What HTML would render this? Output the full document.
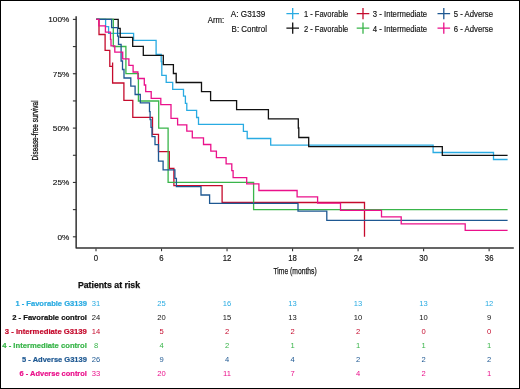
<!DOCTYPE html>
<html><head><meta charset="utf-8"><style>
html,body{margin:0;padding:0;background:#fff;}
svg{display:block;will-change:transform;}
text{font-family:"Liberation Sans",sans-serif;}
</style></head><body>
<svg width="520" height="389" viewBox="0 0 520 389">
<rect x="0" y="0" width="520" height="389" fill="#fff"/>
<g fill="none" stroke-width="1.3" stroke-linejoin="miter" stroke-linecap="butt">
<path d="M96.2,19.4H105.6V26.6H108.6V33.4H133.6V40.3H156.1V54.5H161.2V61.5H161.8V75.4H166.2V82.4H172.7V89.3H183.5V96.1H185.4V103.3H186.8V110.4H196.6V117.5H198.5V124.3H243.4V131.4H247.2V138.5H270.7V145.2H433.1V152.5H493.5V159.5H507.6" stroke="#29ABE2"/>
<path d="M96.2,19.4H118.2V28.4H120.2V37.4H132.7V46.4H143.3V55.4H163.3V64.6H173.4V73.5H176.2V82.5H201.5V91.7H210.6V100.7H236.6V109.7H268.4V118.9H298.3V128.0H298.8V137.5H308.7V146.7H442.3V155.3H507.6" stroke="#111111"/>
<path d="M96.2,19.4H99.0V34.5H105.1V50.4H109.8V66.4H112.6V83.0H123.9V100.4H132.8V117.3H152.5V134.3H158.5V151.6H169.3V168.4H173.9V185.7H222.1V202.5H364.5V236.8M112.6,62.5V66.4" stroke="#C50B2D"/>
<path d="M96.2,19.4H113.3V46.5H125.9V73.7H138.4V101.0H158.7V128.1H168.1V182.4H253.6V209.6H507.6" stroke="#39B54A"/>
<path d="M96.2,19.4H111.6V27.6H117.6V36.2H118.5V44.3H121.1V61.0H122.5V69.5H124.0V78.0H130.8V86.1H135.1V94.5H140.3V102.9H149.5V111.6H150.1V119.7H151.0V127.3H152.0V136.6H155.0V144.7H158.5V161.2H163.1V169.8H174.9V178.4H176.4V186.6H201.0V195.0H209.6V203.3H298.0V211.2H326.8V220.3H507.6" stroke="#1E5892"/>
<path d="M96.2,19.4H98.9V25.9H105.4V32.1H110.5V39.3H111.0V45.8H114.8V52.2H122.7V58.8H128.9V65.3H133.1V72.0H137.9V78.5H144.3V85.0H145.7V91.6H151.2V98.4H160.8V104.6H171.0V118.4H177.6V124.9H186.8V131.2H192.3V137.9H203.5V144.5H210.8V151.2H216.4V157.7H226.1V163.9H231.8V170.6H233.1V177.6H246.7V183.8H258.9V190.5H297.1V196.8H317.6V203.1H340.5V210.3H381.5V216.9H401.2V223.9H465.2V230.4H507.6" stroke="#EA118B"/>
</g>
<g stroke="#333333" fill="none">
<path d="M76.15,16.3V248.0H513.8" stroke-width="1.5" stroke-linejoin="round"/>
<g stroke-width="1.1"><line x1="72.9" y1="236.80" x2="76.2" y2="236.80"/><line x1="72.9" y1="209.62" x2="76.2" y2="209.62"/><line x1="72.9" y1="182.45" x2="76.2" y2="182.45"/><line x1="72.9" y1="155.28" x2="76.2" y2="155.28"/><line x1="72.9" y1="128.10" x2="76.2" y2="128.10"/><line x1="72.9" y1="100.93" x2="76.2" y2="100.93"/><line x1="72.9" y1="73.75" x2="76.2" y2="73.75"/><line x1="72.9" y1="46.58" x2="76.2" y2="46.58"/><line x1="72.9" y1="19.40" x2="76.2" y2="19.40"/><line x1="96.00" y1="248.6" x2="96.00" y2="251.2"/><line x1="161.52" y1="248.6" x2="161.52" y2="251.2"/><line x1="227.04" y1="248.6" x2="227.04" y2="251.2"/><line x1="292.56" y1="248.6" x2="292.56" y2="251.2"/><line x1="358.08" y1="248.6" x2="358.08" y2="251.2"/><line x1="423.60" y1="248.6" x2="423.60" y2="251.2"/><line x1="489.12" y1="248.6" x2="489.12" y2="251.2"/></g>
</g>
<text transform="translate(69.30,239.55) scale(1,0.95)" font-size="8.25" text-anchor="end" fill="#141414" stroke="#141414" stroke-width="0.15">0%</text><text transform="translate(69.30,185.20) scale(1,0.95)" font-size="8.25" text-anchor="end" fill="#141414" stroke="#141414" stroke-width="0.15">25%</text><text transform="translate(69.30,130.85) scale(1,0.95)" font-size="8.25" text-anchor="end" fill="#141414" stroke="#141414" stroke-width="0.15">50%</text><text transform="translate(69.30,76.50) scale(1,0.95)" font-size="8.25" text-anchor="end" fill="#141414" stroke="#141414" stroke-width="0.15">75%</text><text transform="translate(69.30,22.15) scale(1,0.95)" font-size="8.25" text-anchor="end" fill="#141414" stroke="#141414" stroke-width="0.15">100%</text><text transform="translate(96.00,261.20) scale(1,1.1)" font-size="7.8" text-anchor="middle" fill="#141414" stroke="#141414" stroke-width="0.15">0</text><text transform="translate(161.52,261.20) scale(1,1.1)" font-size="7.8" text-anchor="middle" fill="#141414" stroke="#141414" stroke-width="0.15">6</text><text transform="translate(227.04,261.20) scale(1,1.1)" font-size="7.8" text-anchor="middle" fill="#141414" stroke="#141414" stroke-width="0.15">12</text><text transform="translate(292.56,261.20) scale(1,1.1)" font-size="7.8" text-anchor="middle" fill="#141414" stroke="#141414" stroke-width="0.15">18</text><text transform="translate(358.08,261.20) scale(1,1.1)" font-size="7.8" text-anchor="middle" fill="#141414" stroke="#141414" stroke-width="0.15">24</text><text transform="translate(423.60,261.20) scale(1,1.1)" font-size="7.8" text-anchor="middle" fill="#141414" stroke="#141414" stroke-width="0.15">30</text><text transform="translate(489.12,261.20) scale(1,1.1)" font-size="7.8" text-anchor="middle" fill="#141414" stroke="#141414" stroke-width="0.15">36</text>
<text x="273.50" y="274.40" font-size="9.7" textLength="43.2" lengthAdjust="spacingAndGlyphs" fill="#141414" stroke="#141414" stroke-width="0.25">Time (months)</text><text x="77.90" y="288.20" font-size="8.35" textLength="62.2" lengthAdjust="spacingAndGlyphs" font-weight="bold" fill="#111" stroke="#111" stroke-width="0.25">Patients at risk</text>
<text transform="translate(38.4,160.6) rotate(-90)" font-size="8.9" textLength="60.2" lengthAdjust="spacingAndGlyphs" fill="#141414" stroke="#141414" stroke-width="0.3">Disease-free survival</text>
<text transform="translate(207.70,22.80) scale(1,1.08)" font-size="7.6" textLength="16.5" lengthAdjust="spacingAndGlyphs" fill="#141414" stroke="#141414" stroke-width="0.15">Arm:</text><text transform="translate(230.80,17.00) scale(1,1.08)" font-size="7.6" textLength="34.5" lengthAdjust="spacingAndGlyphs" fill="#141414" stroke="#141414" stroke-width="0.15">A: G3139</text><text transform="translate(231.60,31.60) scale(1,1.08)" font-size="7.6" textLength="35.3" lengthAdjust="spacingAndGlyphs" fill="#141414" stroke="#141414" stroke-width="0.15">B: Control</text><text transform="translate(303.90,17.00) scale(1,1.08)" font-size="7.6" textLength="44.4" lengthAdjust="spacingAndGlyphs" fill="#141414" stroke="#141414" stroke-width="0.15">1 - Favorable</text><text transform="translate(303.90,31.50) scale(1,1.08)" font-size="7.6" textLength="44.4" lengthAdjust="spacingAndGlyphs" fill="#141414" stroke="#141414" stroke-width="0.15">2 - Favorable</text><text transform="translate(372.80,17.00) scale(1,1.08)" font-size="7.6" textLength="54.3" lengthAdjust="spacingAndGlyphs" fill="#141414" stroke="#141414" stroke-width="0.15">3 - Intermediate</text><text transform="translate(372.80,31.50) scale(1,1.08)" font-size="7.6" textLength="54.3" lengthAdjust="spacingAndGlyphs" fill="#141414" stroke="#141414" stroke-width="0.15">4 - Intermediate</text><text transform="translate(453.70,17.00) scale(1,1.08)" font-size="7.6" textLength="39.4" lengthAdjust="spacingAndGlyphs" fill="#141414" stroke="#141414" stroke-width="0.15">5 - Adverse</text><text transform="translate(453.70,31.50) scale(1,1.08)" font-size="7.6" textLength="39.4" lengthAdjust="spacingAndGlyphs" fill="#141414" stroke="#141414" stroke-width="0.15">6 - Adverse</text>
<path d="M286.40,13.6H299.00M292.7,8.00V19.20" stroke="#29ABE2" stroke-width="1.3" fill="none"/><path d="M286.40,28.2H299.00M292.7,22.60V33.80" stroke="#111111" stroke-width="1.3" fill="none"/><path d="M356.70,13.6H369.30M363.0,8.00V19.20" stroke="#C50B2D" stroke-width="1.3" fill="none"/><path d="M356.70,28.2H369.30M363.0,22.60V33.80" stroke="#39B54A" stroke-width="1.3" fill="none"/><path d="M437.50,13.6H450.10M443.8,8.00V19.20" stroke="#1E5892" stroke-width="1.3" fill="none"/><path d="M437.50,28.2H450.10M443.8,22.60V33.80" stroke="#EA118B" stroke-width="1.3" fill="none"/>
<text x="86.90" y="305.80" font-size="7.45" text-anchor="end" textLength="71.5" lengthAdjust="spacingAndGlyphs" font-weight="bold" fill="#29ABE2" stroke="#29ABE2" stroke-width="0.2">1 - Favorable G3139</text><text x="96.00" y="305.80" font-size="7.6" text-anchor="middle" fill="#29ABE2">31</text><text x="161.52" y="305.80" font-size="7.6" text-anchor="middle" fill="#29ABE2">25</text><text x="227.04" y="305.80" font-size="7.6" text-anchor="middle" fill="#29ABE2">16</text><text x="292.56" y="305.80" font-size="7.6" text-anchor="middle" fill="#29ABE2">13</text><text x="358.08" y="305.80" font-size="7.6" text-anchor="middle" fill="#29ABE2">13</text><text x="423.60" y="305.80" font-size="7.6" text-anchor="middle" fill="#29ABE2">13</text><text x="489.12" y="305.80" font-size="7.6" text-anchor="middle" fill="#29ABE2">12</text><text x="86.90" y="319.86" font-size="7.45" text-anchor="end" textLength="74.6" lengthAdjust="spacingAndGlyphs" font-weight="bold" fill="#111111" stroke="#111111" stroke-width="0.2">2 - Favorable control</text><text x="96.00" y="319.86" font-size="7.6" text-anchor="middle" fill="#111111">24</text><text x="161.52" y="319.86" font-size="7.6" text-anchor="middle" fill="#111111">20</text><text x="227.04" y="319.86" font-size="7.6" text-anchor="middle" fill="#111111">15</text><text x="292.56" y="319.86" font-size="7.6" text-anchor="middle" fill="#111111">13</text><text x="358.08" y="319.86" font-size="7.6" text-anchor="middle" fill="#111111">10</text><text x="423.60" y="319.86" font-size="7.6" text-anchor="middle" fill="#111111">10</text><text x="489.12" y="319.86" font-size="7.6" text-anchor="middle" fill="#111111">9</text><text x="86.90" y="333.92" font-size="7.45" text-anchor="end" textLength="82.1" lengthAdjust="spacingAndGlyphs" font-weight="bold" fill="#C50B2D" stroke="#C50B2D" stroke-width="0.2">3 - Intermediate G3139</text><text x="96.00" y="333.92" font-size="7.6" text-anchor="middle" fill="#C50B2D">14</text><text x="161.52" y="333.92" font-size="7.6" text-anchor="middle" fill="#C50B2D">5</text><text x="227.04" y="333.92" font-size="7.6" text-anchor="middle" fill="#C50B2D">2</text><text x="292.56" y="333.92" font-size="7.6" text-anchor="middle" fill="#C50B2D">2</text><text x="358.08" y="333.92" font-size="7.6" text-anchor="middle" fill="#C50B2D">2</text><text x="423.60" y="333.92" font-size="7.6" text-anchor="middle" fill="#C50B2D">0</text><text x="489.12" y="333.92" font-size="7.6" text-anchor="middle" fill="#C50B2D">0</text><text x="86.90" y="347.98" font-size="7.45" text-anchor="end" textLength="84.6" lengthAdjust="spacingAndGlyphs" font-weight="bold" fill="#39B54A" stroke="#39B54A" stroke-width="0.2">4 - Intermediate control</text><text x="96.00" y="347.98" font-size="7.6" text-anchor="middle" fill="#39B54A">8</text><text x="161.52" y="347.98" font-size="7.6" text-anchor="middle" fill="#39B54A">4</text><text x="227.04" y="347.98" font-size="7.6" text-anchor="middle" fill="#39B54A">2</text><text x="292.56" y="347.98" font-size="7.6" text-anchor="middle" fill="#39B54A">1</text><text x="358.08" y="347.98" font-size="7.6" text-anchor="middle" fill="#39B54A">1</text><text x="423.60" y="347.98" font-size="7.6" text-anchor="middle" fill="#39B54A">1</text><text x="489.12" y="347.98" font-size="7.6" text-anchor="middle" fill="#39B54A">1</text><text x="86.90" y="362.04" font-size="7.45" text-anchor="end" textLength="64.8" lengthAdjust="spacingAndGlyphs" font-weight="bold" fill="#1E5892" stroke="#1E5892" stroke-width="0.2">5 - Adverse G3139</text><text x="96.00" y="362.04" font-size="7.6" text-anchor="middle" fill="#1E5892">26</text><text x="161.52" y="362.04" font-size="7.6" text-anchor="middle" fill="#1E5892">9</text><text x="227.04" y="362.04" font-size="7.6" text-anchor="middle" fill="#1E5892">4</text><text x="292.56" y="362.04" font-size="7.6" text-anchor="middle" fill="#1E5892">4</text><text x="358.08" y="362.04" font-size="7.6" text-anchor="middle" fill="#1E5892">2</text><text x="423.60" y="362.04" font-size="7.6" text-anchor="middle" fill="#1E5892">2</text><text x="489.12" y="362.04" font-size="7.6" text-anchor="middle" fill="#1E5892">2</text><text x="86.90" y="376.10" font-size="7.45" text-anchor="end" textLength="67.3" lengthAdjust="spacingAndGlyphs" font-weight="bold" fill="#EA118B" stroke="#EA118B" stroke-width="0.2">6 - Adverse control</text><text x="96.00" y="376.10" font-size="7.6" text-anchor="middle" fill="#EA118B">33</text><text x="161.52" y="376.10" font-size="7.6" text-anchor="middle" fill="#EA118B">20</text><text x="227.04" y="376.10" font-size="7.6" text-anchor="middle" fill="#EA118B">11</text><text x="292.56" y="376.10" font-size="7.6" text-anchor="middle" fill="#EA118B">7</text><text x="358.08" y="376.10" font-size="7.6" text-anchor="middle" fill="#EA118B">4</text><text x="423.60" y="376.10" font-size="7.6" text-anchor="middle" fill="#EA118B">2</text><text x="489.12" y="376.10" font-size="7.6" text-anchor="middle" fill="#EA118B">1</text>
<rect x="0.5" y="0.5" width="519" height="388" fill="none" stroke="#000" stroke-width="1"/>
</svg>
</body></html>
